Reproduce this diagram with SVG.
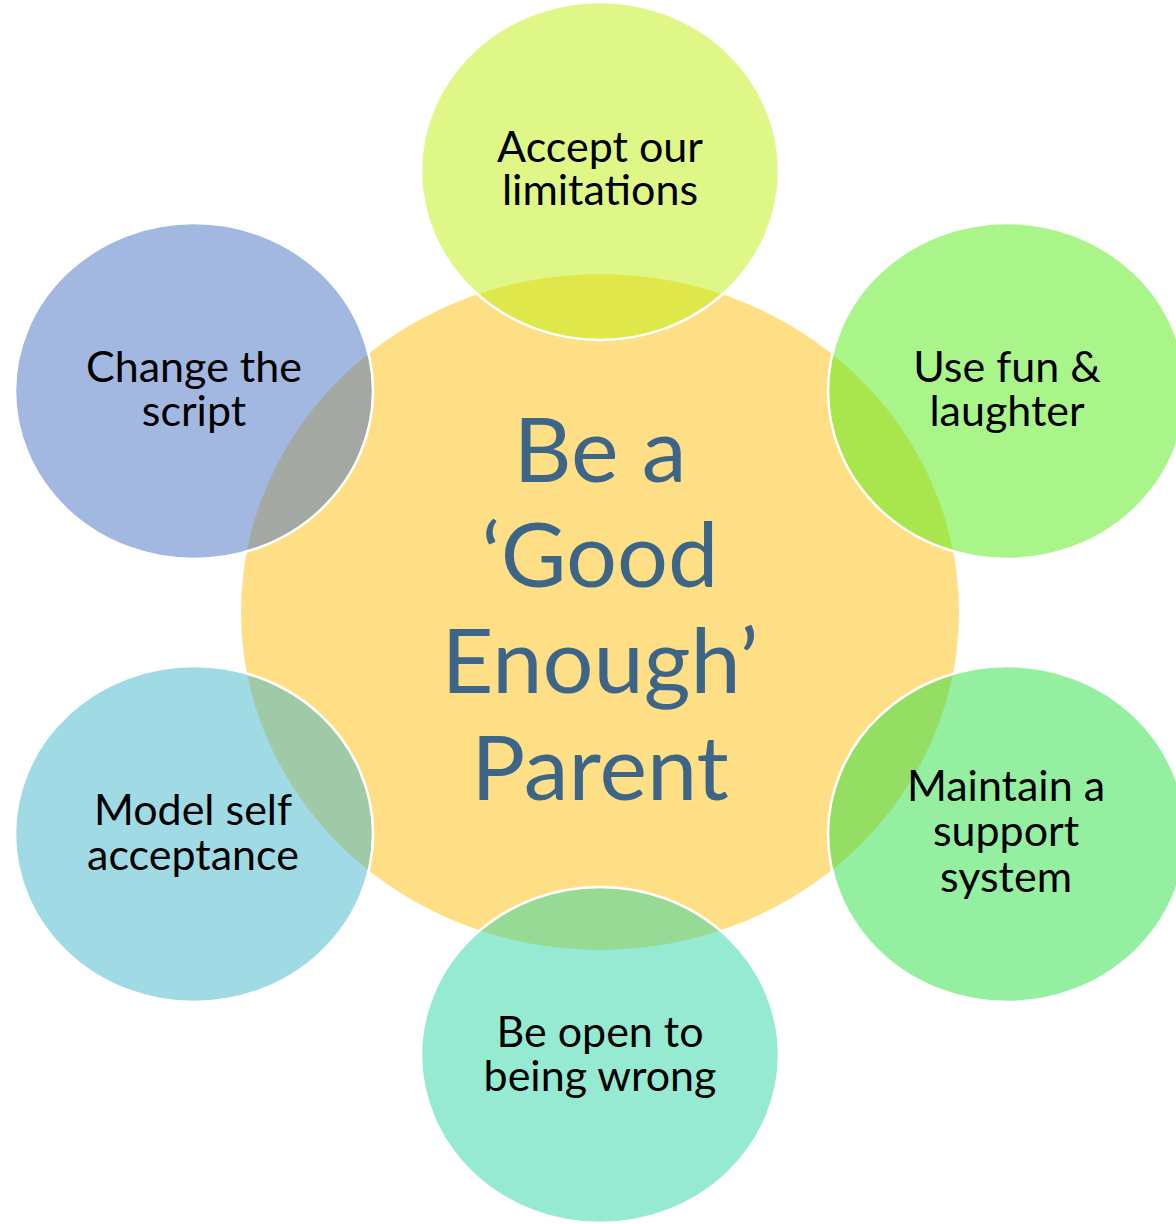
<svg xmlns="http://www.w3.org/2000/svg" width="1176" height="1224" viewBox="0 0 1176 1224">
<style>
.sat{stroke:#ffffff;stroke-width:2.5;fill-opacity:0.5}
.lbl{font-family:Lato,"Liberation Sans",sans-serif;font-size:43px;fill:#000000;text-anchor:middle}
.ctr{font-family:Lato,"Liberation Sans",sans-serif;font-size:90px;fill:#3D6588;text-anchor:middle}
</style>
<rect width="1176" height="1224" fill="#ffffff"/>
<g id="center">
<ellipse cx="600" cy="612" rx="359" ry="338" fill="#FEDF85"/>
<text class="ctr" x="600" y="482">Be a</text>
<text class="ctr" x="600" y="587">‘Good</text>
<text class="ctr" x="600" y="693">Enough’</text>
<text class="ctr" x="600" y="800">Parent</text>
</g>
<g id="connectors"></g>
<g id="node-top">
<ellipse class="sat" cx="600" cy="171" rx="179" ry="169" fill="#BFEF0F"/>
<text class="lbl" x="600" y="162">Accept our</text>
<text class="lbl" x="600" y="205">limitations</text>
</g>
<g id="node-upper-right">
<ellipse class="sat" cx="1007" cy="391" rx="179" ry="168" fill="#53EB15"/>
<text class="lbl" x="1007" y="382">Use fun &amp;</text>
<text class="lbl" x="1007" y="426">laughter</text>
</g>
<g id="node-lower-right">
<ellipse class="sat" cx="1007" cy="834" rx="179" ry="168" fill="#29DF41"/>
<text class="lbl" x="1006" y="801">Maintain a</text>
<text class="lbl" x="1006" y="846">support</text>
<text class="lbl" x="1006" y="892">system</text>
</g>
<g id="node-bottom">
<ellipse class="sat" cx="600" cy="1055" rx="179" ry="168" fill="#2DD5A5"/>
<text class="lbl" x="600" y="1047">Be open to</text>
<text class="lbl" x="600" y="1091">being wrong</text>
</g>
<g id="node-lower-left">
<ellipse class="sat" cx="194" cy="834" rx="179" ry="168" fill="#41B5C9"/>
<text class="lbl" x="193" y="825">Model self</text>
<text class="lbl" x="193" y="870">acceptance</text>
</g>
<g id="node-upper-left">
<ellipse class="sat" cx="194" cy="391" rx="179" ry="168" fill="#4771C1"/>
<text class="lbl" x="194" y="382">Change the</text>
<text class="lbl" x="194" y="426">script</text>
</g>
</svg>
